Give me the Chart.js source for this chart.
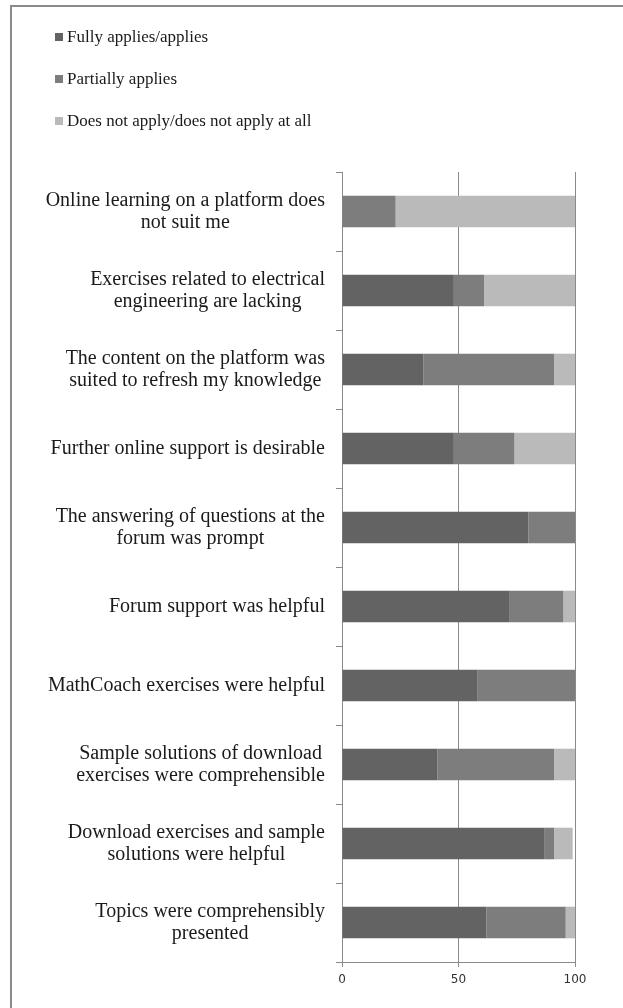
<!DOCTYPE html>
<html>
<head>
<meta charset="utf-8">
<script src="https://cdn.jsdelivr.net/npm/chart.js@4/dist/chart.umd.min.js"></script>
<style>
  html, body { margin: 0; padding: 0; background: #fff; }
  #wrap { position: relative; width: 623px; height: 1008px; overflow: hidden; }
  #frame { position: absolute; left: 10px; top: 5px; width: 700px; height: 1100px;
           border-left: 2px solid #8a8a8a; border-top: 2px solid #8a8a8a; pointer-events: none; }
  #legend { position: absolute; left: 55px; top: 26px; font-family: "Liberation Serif", serif;
            font-size: 17px; color: #1a1a1a; }
  #legend div { height: 42px; line-height: 22px; white-space: nowrap; }
  #legend span { display: inline-block; width: 8px; height: 8px; margin-right: 4px; vertical-align: 1px; }
  canvas { position: absolute; left: 0; top: 0; }
</style>
</head>
<body>
<div id="wrap">
  <canvas id="surveyChart" width="623" height="1008"></canvas>
  <div id="legend"></div>
  <div id="frame"></div>
</div>
<script>
// statements, top to bottom
const categories = [
    ['Online learning on a platform does', 'not suit me'],
    ['Exercises related to electrical', 'engineering are lacking'],
    ['The content on the platform was', 'suited to refresh my knowledge'],
    ['Further online support is desirable'],
    ['The answering of questions at the', 'forum was prompt'],
    ['Forum support was helpful'],
    ['MathCoach exercises were helpful'],
    ['Sample solutions of download', 'exercises were comprehensible'],
    ['Download exercises and sample', 'solutions were helpful'],
    ['Topics were comprehensibly', 'presented']
];

const seriesNames = ['Fully applies/applies', 'Partially applies', 'Does not apply/does not apply at all'];
const seriesColors = ['#636363', '#7d7d7d', '#bababa'];

const fullyApplies = [0, 48, 35, 48, 80, 72, 58, 41, 87, 62];
const partiallyApplies = [23, 13, 56, 26, 20, 23, 42, 50, 4, 34];
const doesNotApply = [77, 39, 9, 26, 0, 5, 0, 9, 8, 4];

const xTicks = [0, 50, 100];

const seriesValues = [fullyApplies, partiallyApplies, doesNotApply];

// legend
const legendEl = document.getElementById('legend');
seriesNames.forEach((name, i) => {
    const row = document.createElement('div');
    row.innerHTML = '<span style="background:' + seriesColors[i] + '"></span>' + name;
    legendEl.appendChild(row);
});

// category labels: block right-aligned to the axis, lines centred inside the block
const centredLabels = {
    id: 'centredLabels',
    afterDraw(chart) {
        const y = chart.scales.y;
        const ctx = chart.ctx;
        const right = 325;
        const lineH = 22;
        ctx.save();
        ctx.font = '20px "Liberation Serif", serif';
        ctx.fillStyle = '#1a1a1a';
        ctx.textAlign = 'center';
        ctx.textBaseline = 'middle';
        categories.forEach((lines, i) => {
            const w = Math.max(...lines.map(l => ctx.measureText(l).width));
            const cx = right - w / 2;
            const cy = y.getPixelForValue(i);
            const top = cy - (lines.length - 1) * lineH / 2;
            lines.forEach((l, k) => ctx.fillText(l, cx, top + k * lineH));
        });
        ctx.restore();
    }
};

new Chart(document.getElementById('surveyChart'), {
    type: 'bar',
    data: {
        labels: categories,
        datasets: seriesValues.map((vals, i) => ({
            label: seriesNames[i],
            data: vals,
            backgroundColor: seriesColors[i],
            borderWidth: 0,
            barPercentage: 0.8,
            categoryPercentage: 0.5
        }))
    },
    options: {
        indexAxis: 'y',
        responsive: false,
        animation: false,
        layout: { padding: { top: 172, right: 48, bottom: 0, left: 0 } },
        plugins: {
            legend: { display: false },
            tooltip: { enabled: false }
        },
        scales: {
            x: {
                stacked: true,
                min: 0,
                max: 100,
                afterBuildTicks: s => { s.ticks = xTicks.map(v => ({ value: v })); },
                afterFit: s => { s.height = 46; },
                grid: { color: '#8a8a8a', lineWidth: 1, tickLength: 5, drawTicks: true },
                border: { color: '#8a8a8a', width: 1 },
                ticks: {
                    padding: 6,
                    color: '#333',
                    font: { family: 'DejaVu Sans', size: 12 }
                }
            },
            y: {
                stacked: true,
                afterFit: s => { s.width = 342; },
                grid: { drawOnChartArea: false, drawTicks: true, tickLength: 6, color: '#8a8a8a', offset: true },
                border: { color: '#8a8a8a', width: 1 },
                ticks: { display: false }
            }
        }
    },
    plugins: [centredLabels]
});
</script>
</body>
</html>
